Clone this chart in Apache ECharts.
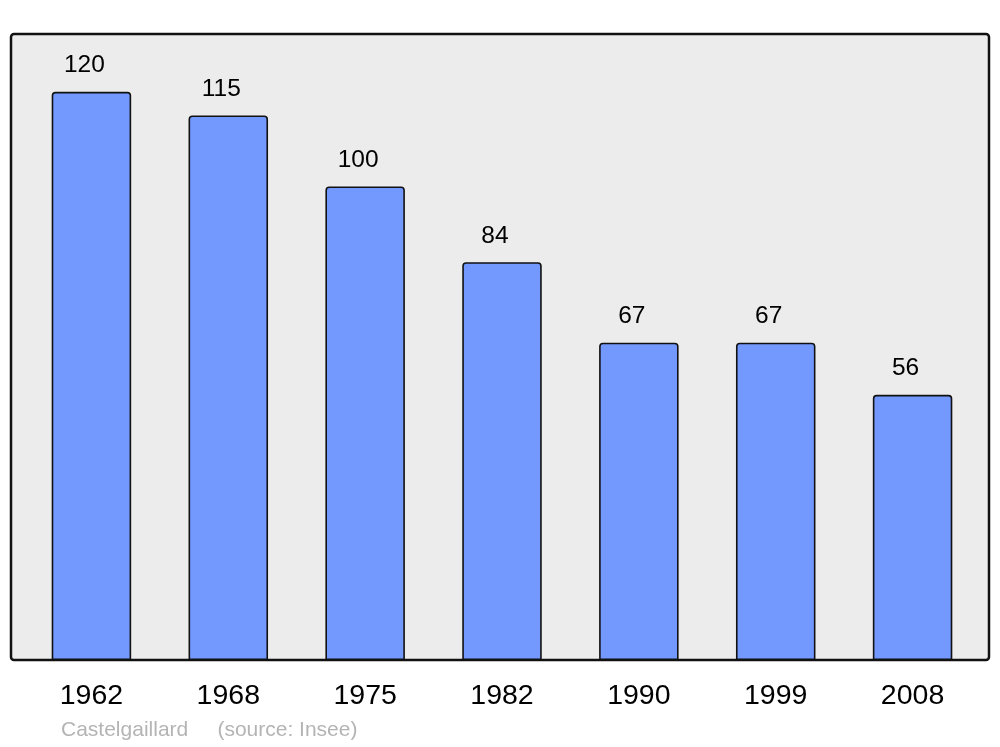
<!DOCTYPE html>
<html>
<head>
<meta charset="utf-8">
<script src="https://cdn.jsdelivr.net/npm/echarts@6/dist/echarts.min.js"></script>
<style>
html,body{margin:0;padding:0;background:#fff;}
#chart{width:1000px;height:747px;}
</style>
</head>
<body>
<div id="chart"></div>
<script>
const years = ['1962','1968','1975','1982','1990','1999','2008'];
const population = [120,115,100,84,67,67,56];
const footerText = 'Castelgaillard     (source: Insee)';

const chart = echarts.init(document.getElementById('chart'), null, {renderer:'canvas'});
chart.setOption({
  animation:false,
  backgroundColor:'#ffffff',
  textStyle:{fontFamily:'Liberation Sans, Arial, sans-serif'},
  title:{
    text: footerText,
    left: 61, top: 720, padding:0,
    textStyle:{color:'#b4b4b4', fontSize:21, fontWeight:'normal', fontFamily:'Liberation Sans, Arial, sans-serif'}
  },
  graphic:[{
    type:'rect', z:-10, silent:true,
    shape:{x:11, y:34, width:978, height:626, r:3},
    style:{fill:'#ececec', stroke:'#111111', lineWidth:2.5}
  }],
  grid:{left:23, right:19, top:35, bottom:87, containLabel:false},
  xAxis:{
    type:'category', data: years,
    axisLine:{show:false}, axisTick:{show:false}, splitLine:{show:false},
    axisLabel:{color:'#000', fontSize:28.5, margin:22, fontFamily:'Liberation Sans, Arial, sans-serif'}
  },
  yAxis:{
    type:'value', min:0, max:132, show:false, splitLine:{show:false}
  },
  series:[{
    type:'bar', data: population, barWidth:79.5,
    itemStyle:{color:'#7399ff', borderColor:'#111111', borderWidth:1.6, borderRadius:[3,3,0,0]},
    label:{show:true, position:'top', distance:14, offset:[-7,0], color:'#000', fontSize:24.5, fontFamily:'Liberation Sans, Arial, sans-serif'}
  }]
});
</script>
</body>
</html>
